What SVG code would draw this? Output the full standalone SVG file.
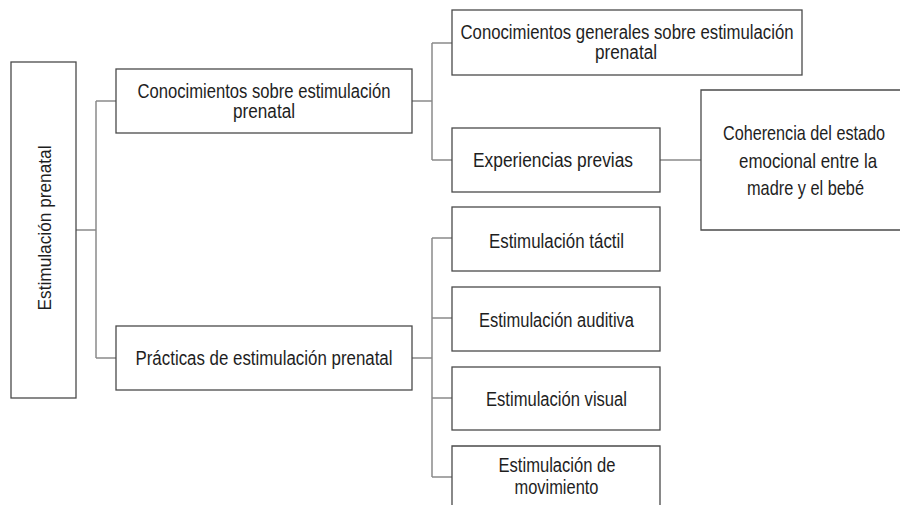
<svg xmlns="http://www.w3.org/2000/svg" width="900" height="505" viewBox="0 0 900 505">
<style>
.box{fill:#ffffff;stroke:#4a4a4a;stroke-width:1.3}
.ln{fill:none;stroke:#8a8a8a;stroke-width:1.5}
.t{font-family:"Liberation Sans",Arial,sans-serif;font-size:20px;fill:#1e1e1e;text-anchor:middle}
.r{font-family:"Liberation Sans",Arial,sans-serif;font-size:18px;fill:#1e1e1e;text-anchor:middle}
</style>
<rect width="900" height="505" fill="#ffffff"/>
<g id="connectors">
<path class="ln" d="M76 230H96M96 101V358M96 101H116M96 358H116"/>
<path class="ln" d="M412 101H432M432 43V160M432 43H452M432 160H452"/>
<path class="ln" d="M660 160H701"/>
<path class="ln" d="M412 358H432M432 238V477M432 238H452M432 318H452M432 398H452M432 477H452"/>
</g>
<g id="root">
<rect class="box" x="11" y="62" width="65" height="336"/>
<text class="r" transform="translate(50.5,228) rotate(-90)" textLength="165" lengthAdjust="spacingAndGlyphs">Estimulación prenatal</text>
</g>
<g id="conocimientos">
<rect class="box" x="116" y="69" width="296" height="64"/>
<text class="t" x="264" y="98" textLength="253" lengthAdjust="spacingAndGlyphs">Conocimientos sobre estimulación</text>
<text class="t" x="264" y="118" textLength="62" lengthAdjust="spacingAndGlyphs">prenatal</text>
</g>
<g id="practicas">
<rect class="box" x="116" y="326" width="296" height="64"/>
<text class="t" x="264" y="365" textLength="257" lengthAdjust="spacingAndGlyphs">Prácticas de estimulación prenatal</text>
</g>
<g id="generales">
<rect class="box" x="452" y="10" width="350" height="65"/>
<text class="t" x="627" y="38.5" textLength="333" lengthAdjust="spacingAndGlyphs">Conocimientos generales sobre estimulación</text>
<text class="t" x="626" y="59" textLength="62" lengthAdjust="spacingAndGlyphs">prenatal</text>
</g>
<g id="experiencias">
<rect class="box" x="452" y="128" width="208" height="64"/>
<text class="t" x="553" y="167" textLength="160" lengthAdjust="spacingAndGlyphs">Experiencias previas</text>
</g>
<g id="coherencia">
<path class="box" d="M900 90H701V230H900"/>
<g transform="translate(805,0) scale(0.82,1)">
<text class="t" x="-1.2" y="140" textLength="197.6" lengthAdjust="spacingAndGlyphs">Coherencia del estado</text>
<text class="t" x="3.7" y="168" textLength="168.3" lengthAdjust="spacingAndGlyphs">emocional entre la</text>
<text class="t" x="0.6" y="195.5" textLength="142.7" lengthAdjust="spacingAndGlyphs">madre y el bebé</text>
</g>
</g>
<g id="tactil">
<rect class="box" x="452" y="207" width="208" height="64"/>
<text class="t" x="556.5" y="248" textLength="135" lengthAdjust="spacingAndGlyphs">Estimulación táctil</text>
</g>
<g id="auditiva">
<rect class="box" x="452" y="287" width="208" height="64"/>
<text class="t" x="556.5" y="327" textLength="155" lengthAdjust="spacingAndGlyphs">Estimulación auditiva</text>
</g>
<g id="visual">
<rect class="box" x="452" y="367" width="208" height="63"/>
<text class="t" x="556.5" y="406" textLength="141" lengthAdjust="spacingAndGlyphs">Estimulación visual</text>
</g>
<g id="movimiento">
<path class="box" d="M452 505V446H660V505"/>
<text class="t" x="557" y="472" textLength="117" lengthAdjust="spacingAndGlyphs">Estimulación de</text>
<text class="t" x="556.5" y="494" textLength="84" lengthAdjust="spacingAndGlyphs">movimiento</text>
</g>
</svg>
